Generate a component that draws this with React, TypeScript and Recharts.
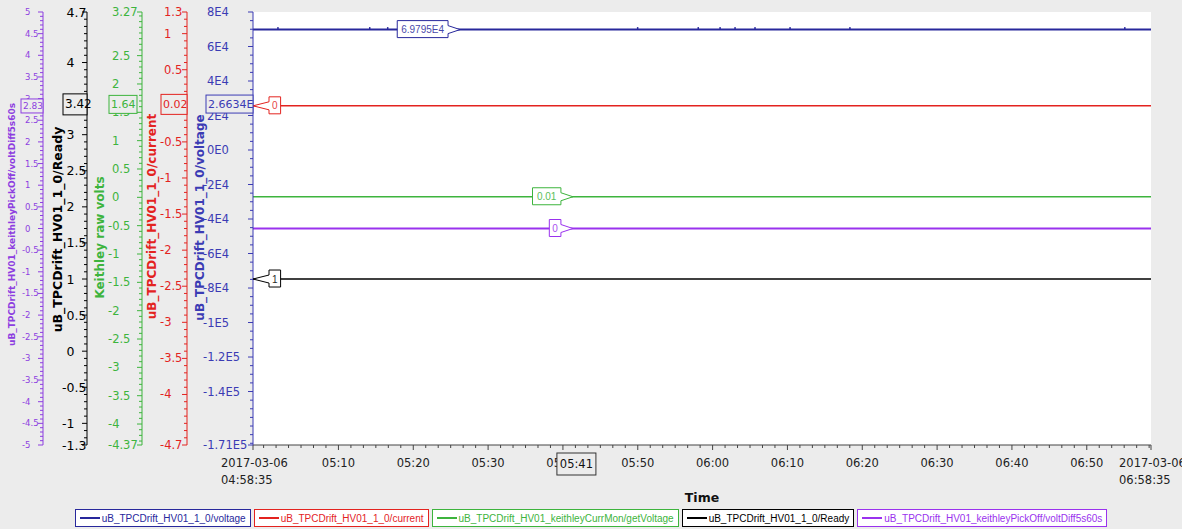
import React from "react";
import {
  LineChart,
  Line,
  XAxis,
  YAxis,
  CartesianGrid,
  ReferenceDot,
  Legend,
} from "recharts";

const at = (hms: string) => {
  const [h, m, s] = hms.split(":").map(Number);
  return Date.UTC(2017, 2, 6, h, m, s || 0);
};

// time axis
const START = "04:58:35";
const END = "06:58:35";
const DAY = "2017-03-06";
const timeTickLabels = ["05:10", "05:20", "05:30", "05:40", "05:50", "06:00", "06:10", "06:20", "06:30", "06:40", "06:50"];

// series (archived samples)
const voltageTimes = [START, "05:01:55", "05:14:11", "05:16:35", "05:49:59", "05:58:05", "06:01:00", "06:03:00", "06:05:40", "06:10:21", "06:18:21", "06:55:05", END];
const voltageValues = [69795, 69795, 69795, 69795, 69795, 69795, 69795, 69795, 69795, 69795, 69795, 69795, 69795];
const flatTimes = [START, END];
const currentValues = [0, 0];
const keithleyValues = [0.01, 0.01];
const readyValues = [1, 1];
const pickOffValues = [0, 0];

// tick labels of the value axes
const voltageTicks = [80000, 60000, 40000, 20000, 0, -20000, -40000, -60000, -80000, -100000, -120000, -140000, -171000];
const currentTicks = [1.3, 1, 0.5, 0, -0.5, -1, -1.5, -2, -2.5, -3, -3.5, -4, -4.7];
const keithleyTicks = [3.27, 2.5, 2, 1.5, 1, 0.5, 0, -0.5, -1, -1.5, -2, -2.5, -3, -3.5, -4, -4.37];
const readyTicks = [4.7, 4, 3.5, 3, 2.5, 2, 1.5, 1, 0.5, 0, -0.5, -1, -1.3];
const pickOffTicks = [5, 4.5, 4, 3.5, 3, 2.5, 2, 1.5, 1, 0.5, 0, -0.5, -1, -1.5, -2, -2.5, -3, -3.5, -4, -4.5, -5];

// cursor readouts
const cursorTime = "05:41:20";
const cursorLabel = "05:41";
const cursorReadouts: Record<string, number> = { a_voltage: 26634, b_current: 0.02, c_keithley: 1.64, d_ready: 3.42, e_pickOff: 2.83 };
const cursorTexts: Record<string, string> = { a_voltage: "2.6634E", b_current: "0.02", c_keithley: "1.64", d_ready: "3.42", e_pickOff: "2.83" };

// value flags on the traces
const flags = [
  { axis: "a_voltage", time: "05:26:15", value: 69795, text: "6.9795E4", dir: "right" },
  { axis: "b_current", time: START, value: 0, text: "0", dir: "left" },
  { axis: "c_keithley", time: cursorTime, value: 0.01, text: "0.01", dir: "right" },
  { axis: "e_pickOff", time: cursorTime, value: 0, text: "0", dir: "right" },
  { axis: "d_ready", time: START, value: 1, text: "1", dir: "left" },
];

const BG = "#ececec";
const BLUE = "#28289c";
const BLUE_TXT = "#3b3bb4";
const RED = "#e3231f";
const GREEN = "#3db43d";
const BLACK = "#000000";
const PURPLE = "#9a32ee";
const PURPLE_TXT = "#8d3ee0";

// layout
const W = 1182;
const H = 529;
const MARGIN = { top: 12, right: 31, bottom: 2, left: 0 };
const LEGEND_H = 18;
const XAXIS_H = 64;

const sci = (v: number) => {
  if (v === 0) return "0E0";
  const e = Math.floor(Math.log10(Math.abs(v)));
  const m = +(v / Math.pow(10, e)).toFixed(4);
  return `${m}E${e}`;
};
const plain = (v: number) => String(v);

const stepTicks = (lo: number, hi: number, step: number, majors: number[]) => {
  const out: number[] = [...majors];
  for (let k = Math.ceil(lo / step - 1e-9); k * step <= hi + 1e-9; k++) {
    out.push(+(k * step).toFixed(6));
  }
  return Array.from(new Set(out)).sort((a, b) => a - b);
};

// recharts stacks left axes by id, first id next to the plot
const axes = [
  { id: "a_voltage", width: 66, domain: [-171000, 80000], ticks: voltageTicks, step: 5000, color: BLUE_TXT, font: 11.5, labelOff: -50, minusW: 4, fmt: sci, title: "uB_TPCDrift_HV01_1_0/voltage", titleOff: -53, titleDy: -11, titleSize: 12, box: { left: -47, w: 47, h: 18, font: 11 } },
  { id: "b_current", width: 45, domain: [-4.7, 1.3], ticks: currentTicks, step: 0.1, color: RED, font: 11.5, labelOff: -27, minusW: 4, fmt: plain, title: "uB_TPCDrift_HV01_1_0/current", titleOff: -35, titleDy: -12, titleSize: 12, box: { left: -26, w: 26, h: 20, font: 11 } },
  { id: "c_keithley", width: 55, domain: [-4.37, 3.27], ticks: keithleyTicks, step: 0.1, color: GREEN, font: 11.5, labelOff: -34, minusW: 4, fmt: plain, title: "Keithley raw volts", titleOff: -42, titleDy: 9, titleSize: 12, box: { left: -33, w: 28, h: 18, font: 11 } },
  { id: "d_ready", width: 44, domain: [-1.3, 4.7], ticks: readyTicks, step: 0.1, color: BLACK, font: 12.5, labelOff: -25, minusW: 4.5, fmt: plain, title: "uB_TPCDrift_HV01_1_0/Ready", titleOff: -30, titleDy: 1, titleSize: 12.5, box: { left: -24, w: 24, h: 21, font: 12 } },
  { id: "e_pickOff", width: 43, domain: [-5, 5], ticks: pickOffTicks, step: 0.1, color: PURPLE_TXT, font: 8.5, labelOff: -21, minusW: 3, fmt: plain, title: "uB_TPCDrift_HV01_keithleyPickOff/voltDiff5s60s", titleOff: -31, titleDy: -4, titleSize: 9, box: { left: -22, w: 22, h: 14, font: 9 } },
];

const series = [
  { id: "a_voltage", name: "uB_TPCDrift_HV01_1_0/voltage", color: BLUE, width: 2, times: voltageTimes, values: voltageValues },
  { id: "b_current", name: "uB_TPCDrift_HV01_1_0/current", color: RED, width: 1.5, times: flatTimes, values: currentValues },
  { id: "c_keithley", name: "uB_TPCDrift_HV01_keithleyCurrMon/getVoltage", color: GREEN, width: 1.5, times: flatTimes, values: keithleyValues },
  { id: "d_ready", name: "uB_TPCDrift_HV01_1_0/Ready", color: BLACK, width: 1.5, times: flatTimes, values: readyValues },
  { id: "e_pickOff", name: "uB_TPCDrift_HV01_keithleyPickOff/voltDiff5s60s", color: PURPLE, width: 2, times: flatTimes, values: pickOffValues },
];

const PLOT_LEFT = MARGIN.left + axes.reduce((s, a) => s + a.width, 0);
const PLOT_W = W - MARGIN.right - PLOT_LEFT;
const PLOT_H = H - MARGIN.top - MARGIN.bottom - LEGEND_H - XAXIS_H;

const xMajor = [START, ...timeTickLabels.map((l) => l + ":00"), END].map(at);
const xTicks = (() => {
  const out = [...xMajor];
  for (let t = at("05:00:00"); t < at(END); t += 100000) out.push(t);
  return Array.from(new Set(out)).sort((a, b) => a - b);
})();

// readout box is drawn with the top tick, so it sits over the axis' own ticks
function YTick(props: any) {
  const { x, y, payload, ax } = props;
  const v = payload.value;
  const major = ax.ticks.some((m: number) => Math.abs(m - v) < 1e-9);
  const len = major ? 5 : 3;
  const isTop = Math.abs(v - ax.domain[1]) < 1e-9;
  let box = null;
  if (isTop) {
    const pxPerUnit = PLOT_H / (ax.domain[1] - ax.domain[0]);
    const by = y + (ax.domain[1] - cursorReadouts[ax.id]) * pxPerUnit;
    const b = ax.box;
    const x0 = x + b.left;
    box = (
      <g>
        <rect x={x0} y={by - b.h / 2} width={b.w} height={b.h} fill={BG} stroke={ax.color} strokeWidth={1} />
        <text x={x0 + 2} y={by} dominantBaseline="central" fontSize={b.font} fill={ax.color}>
          {cursorTexts[ax.id]}
        </text>
      </g>
    );
  }
  return (
    <g>
      <line x1={x - len} x2={x} y1={y} y2={y} stroke={ax.color} strokeWidth={1} />
      {major && (
        <text
          x={x + ax.labelOff + (v < 0 ? 0 : ax.minusW)}
          y={y}
          dominantBaseline="central"
          fontSize={ax.font}
          fill={ax.color}
        >
          {ax.fmt(v)}
        </text>
      )}
      {box}
    </g>
  );
}

function XTick(props: any) {
  const { x, y, payload } = props;
  const v = payload.value;
  const major = xMajor.includes(v);
  const d = new Date(v);
  const hh = String(d.getUTCHours()).padStart(2, "0");
  const mm = String(d.getUTCMinutes()).padStart(2, "0");
  const ss = String(d.getUTCSeconds()).padStart(2, "0");
  const edge = v === at(START) || v === at(END);
  let box = null;
  if (v === at(END)) {
    const cx = x - ((at(END) - at(cursorTime)) * PLOT_W) / (at(END) - at(START));
    const x0 = cx - 16;
    const y0 = y + 8;
    box = (
      <g>
        <rect x={x0} y={y0} width={39} height={22} fill={BG} stroke="#333" strokeWidth={1} />
        <text x={x0 + 19.5} y={y0 + 11} textAnchor="middle" dominantBaseline="central" fontSize={11.5} fill="#111">
          {cursorLabel}
        </text>
      </g>
    );
  }
  return (
    <g>
      <line x1={x} x2={x} y1={y} y2={y + (major ? 5 : 3)} stroke="#444" />
      {major && !edge && (
        <text x={x} y={y + 22} textAnchor="middle" fontSize={11.5} fill="#222">
          {`${hh}:${mm}`}
        </text>
      )}
      {edge && (
        <text x={x - 32} y={y + 22} fontSize={11.5} fill="#222">
          <tspan x={x - 32}>{DAY}</tspan>
          <tspan x={x - 32} dy={17}>{`${hh}:${mm}:${ss}`}</tspan>
        </text>
      )}
      {box}
    </g>
  );
}

function AxisTitle(props: any) {
  const { viewBox, ax } = props;
  const cx = viewBox.x + viewBox.width + ax.titleOff;
  const cy = viewBox.y + viewBox.height / 2 + ax.titleDy;
  return (
    <text
      x={cx}
      y={cy}
      transform={`rotate(-90 ${cx} ${cy})`}
      textAnchor="middle"
      dominantBaseline="central"
      fontWeight="bold"
      fontSize={ax.titleSize}
      fill={ax.color}
    >
      {ax.title}
    </text>
  );
}

function TimeTitle(props: any) {
  const { viewBox } = props;
  return (
    <text
      x={viewBox.x + viewBox.width / 2}
      y={viewBox.y + 52}
      textAnchor="middle"
      dominantBaseline="central"
      fontWeight="bold"
      fontSize={12.5}
      fill="#111"
    >
      Time
    </text>
  );
}

function Flag(props: any) {
  const { cx, cy, text, color, dir } = props;
  if (cx == null || cy == null) return null;
  const w = text.length * 5.6 + 6;
  const top = cy - 9;
  const bot = cy + 8;
  let pts: number[][];
  let tx: number;
  if (dir === "right") {
    const b1 = cx - 12;
    const b0 = b1 - w;
    pts = [[b0, top], [b1, top], [b1, cy - 4], [cx, cy], [b1, cy + 4], [b1, bot], [b0, bot]];
    tx = b0 + w / 2;
  } else {
    const b0 = cx + 16;
    const b1 = b0 + w;
    pts = [[cx, cy], [b0, cy - 4], [b0, top], [b1, top], [b1, bot], [b0, bot], [b0, cy + 4]];
    tx = b0 + w / 2;
  }
  return (
    <g>
      <polygon points={pts.map((p) => p.join(",")).join(" ")} fill="#fff" stroke={color} strokeWidth={1} />
      <text
        x={tx}
        y={cy}
        textAnchor="middle"
        dominantBaseline="central"
        fontSize={10}
        fontFamily='"Liberation Sans", Arial, sans-serif'
        fill={color}
        opacity={0.85}
      >
        {text}
      </text>
    </g>
  );
}

function BlipDot(props: any) {
  const { cx, cy, index, count } = props;
  if (index === 0 || index === count - 1) return null;
  return <rect x={cx - 0.75} y={cy - 2.5} width={1.5} height={2} fill={BLUE} />;
}

function LegendBoxes() {
  return (
    <div
      style={{
        display: "flex",
        justifyContent: "center",
        gap: 3,
        fontFamily: '"Liberation Sans", Arial, sans-serif',
        fontSize: 10,
      }}
    >
      {series.map((s) => (
        <div
          key={s.id}
          style={{
            border: `1px solid ${s.color}`,
            background: "#fff",
            height: LEGEND_H - 2,
            display: "flex",
            alignItems: "center",
            padding: "0 4px",
            color: s.color,
            whiteSpace: "nowrap",
          }}
        >
          <span style={{ width: 20, height: 0, borderTop: `2px solid ${s.color}`, marginRight: 2 }} />
          {s.name}
        </div>
      ))}
    </div>
  );
}

export default function App() {
  const seriesData = series.map((s) => s.times.map((t, i) => ({ t: at(t), v: s.values[i] })));
  return (
    <div
      style={{
        position: "fixed",
        left: 0,
        top: 0,
        width: W,
        height: H,
        background: BG,
        fontFamily: '"DejaVu Sans", sans-serif',
      }}
    >
      <LineChart width={W} height={H} margin={MARGIN}>
        <CartesianGrid yAxisId="a_voltage" fill="#fff" horizontal={false} vertical={false} />
        <XAxis
          dataKey="t"
          type="number"
          domain={[at(START), at(END)]}
          allowDataOverflow
          ticks={xTicks}
          interval={0}
          tickSize={0}
          tickMargin={0}
          tickLine={false}
          tick={<XTick />}
          axisLine={{ stroke: "#444" }}
          height={XAXIS_H}
          label={<TimeTitle />}
        />
        {axes.map((ax) => (
          <YAxis
            key={ax.id}
            yAxisId={ax.id}
            orientation="left"
            type="number"
            width={ax.width}
            domain={ax.domain}
            allowDataOverflow
            ticks={stepTicks(ax.domain[0], ax.domain[1], ax.step, ax.ticks)}
            interval={0}
            tickSize={0}
            tickMargin={0}
            tickLine={false}
            tick={<YTick ax={ax} />}
            axisLine={{ stroke: ax.color }}
            label={<AxisTitle ax={ax} />}
          />
        ))}
        {series.map((s, i) => (
          <Line
            key={s.id}
            yAxisId={s.id}
            data={seriesData[i]}
            dataKey="v"
            name={s.name}
            type="linear"
            stroke={s.color}
            strokeWidth={s.width}
            dot={s.id === "a_voltage" ? <BlipDot count={seriesData[i].length} /> : false}
            activeDot={false}
            isAnimationActive={false}
          />
        ))}
        {flags.map((f) => (
          <ReferenceDot
            key={f.axis}
            yAxisId={f.axis}
            x={at(f.time)}
            y={f.value}
            r={0}
            shape={<Flag text={f.text} dir={f.dir} color={series.find((s) => s.id === f.axis)!.color} />}
          />
        ))}
        <Legend
          verticalAlign="bottom"
          content={<LegendBoxes />}
          wrapperStyle={{ left: 0, width: W }}
        />
      </LineChart>
    </div>
  );
}
